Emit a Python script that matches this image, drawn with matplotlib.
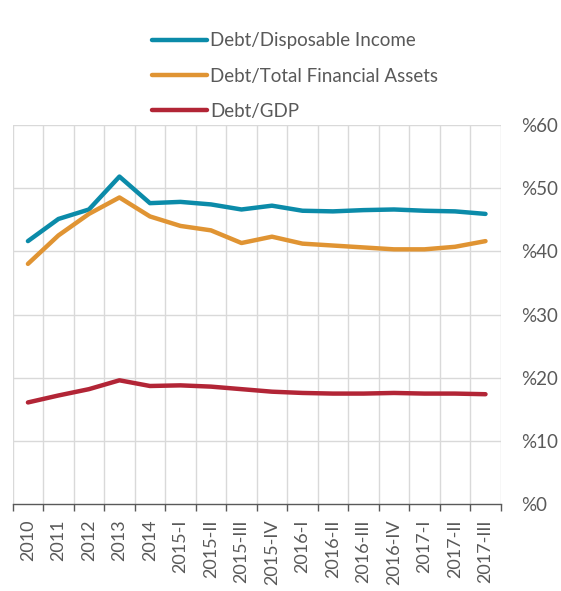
import matplotlib
matplotlib.use("Agg")
import matplotlib.pyplot as plt
import numpy as np

plt.rcParams["font.family"] = ["Lato", "DejaVu Sans"]

periods = ["2010", "2011", "2012", "2013", "2014", "2015-I", "2015-II", "2015-III",
           "2015-IV", "2016-I", "2016-II", "2016-III", "2016-IV", "2017-I", "2017-II",
           "2017-III"]
debt_disposable_income = [41.6, 45.1, 46.6, 51.8, 47.6, 47.8, 47.4, 46.6,
                          47.2, 46.4, 46.3, 46.5, 46.6, 46.4, 46.3, 45.9]
debt_financial_assets = [38.0, 42.5, 45.9, 48.5, 45.5, 44.0, 43.3, 41.3,
                         42.3, 41.2, 40.9, 40.6, 40.3, 40.3, 40.7, 41.6]
debt_gdp = [16.1, 17.2, 18.2, 19.6, 18.7, 18.8, 18.6, 18.2,
            17.8, 17.6, 17.5, 17.5, 17.6, 17.5, 17.5, 17.4]

GRID = "#d9d9d9"
TEXT = "#595959"

fig = plt.figure(figsize=(5.61, 5.91), dpi=100)
ax = fig.add_axes([0.0226, 0.1467, 0.870, 0.6423])

x = np.arange(len(periods))
ax.plot(x, debt_disposable_income, color="#0b8ba9", lw=3.2, solid_capstyle="round",
        label="Debt/Disposable Income")
ax.plot(x, debt_financial_assets, color="#e09433", lw=3.2, solid_capstyle="round",
        label="Debt/Total Financial Assets")
ax.plot(x, debt_gdp, color="#b22536", lw=3.2, solid_capstyle="round",
        label="Debt/GDP")

ax.set_xlim(-0.5, len(periods) - 0.5)
ax.set_ylim(0, 60)

# gridlines at category boundaries and every 10%
for b in np.arange(-0.5, len(periods) + 0.5, 1):
    ax.axvline(b, color=GRID, lw=1, zorder=0)
for v in range(10, 61, 10):
    ax.axhline(v, color=GRID, lw=1, zorder=0)

ax.set_xticks(x)
ax.set_xticklabels(periods, rotation=90, fontsize=13, color=TEXT)
ax.set_xticks(np.arange(-0.5, len(periods), 1), minor=True)
ax.tick_params(axis="x", which="major", length=0, pad=11)
ax.tick_params(axis="x", which="minor", length=5, color=TEXT, width=1)

ax.yaxis.tick_right()
ax.set_yticks(range(0, 61, 10))
ax.set_yticklabels([f"%{v}" for v in range(0, 61, 10)], fontsize=13.5, color=TEXT)
ax.tick_params(axis="y", length=0, pad=14.5)

for side in ["top", "left", "right"]:
    ax.spines[side].set_visible(False)
ax.spines["bottom"].set_color(TEXT)
ax.spines["bottom"].set_linewidth(1)

fig.legend(loc="upper left", bbox_to_anchor=(0.241, 0.974), frameon=False,
           fontsize=13.5, handlelength=2.93, handletextpad=0.16,
           labelspacing=0.98, labelcolor=TEXT)

fig.savefig("out.png", dpi=100)
plt.close(fig)
